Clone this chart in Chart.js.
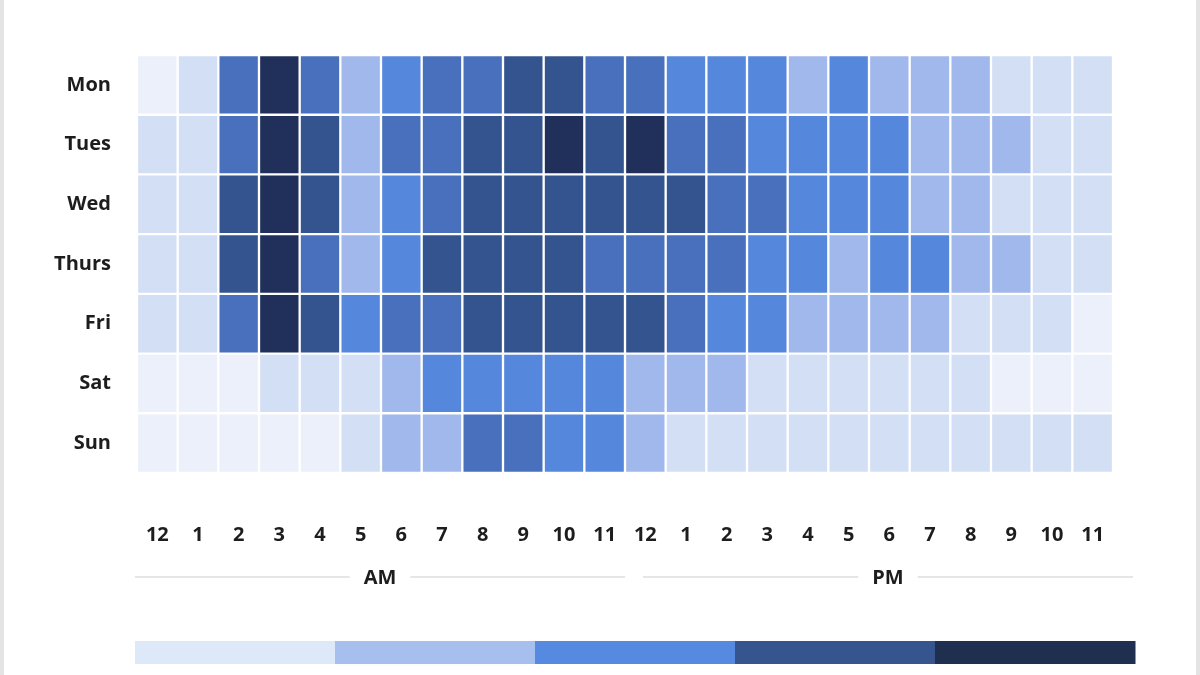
<!DOCTYPE html>
<html>
<head>
<meta charset="utf-8">
<script src="https://cdn.jsdelivr.net/npm/chart.js@4.4.0/dist/chart.umd.min.js"></script>
<style>
  html, body { margin: 0; padding: 0; background: #fff; }
</style>
</head>
<body>
<canvas id="activityHeatmap" width="1200" height="675"></canvas>
<script>
// {weekly activity heatmap - day x hour}

// y axis labels
const days = ['Mon', 'Tues', 'Wed', 'Thurs', 'Fri', 'Sat', 'Sun'];
// x axis labels (12 AM .. 11 PM)
const hours = ['12', '1', '2', '3', '4', '5', '6', '7', '8', '9', '10', '11',
               '12', '1', '2', '3', '4', '5', '6', '7', '8', '9', '10', '11'];
const periods = ['AM', 'PM'];

// activity level per hour, 0 = lowest .. 6 = highest
const mon   = [0, 1, 4, 6, 4, 2, 3, 4, 4, 5, 5, 4,  4, 3, 3, 3, 2, 3, 2, 2, 2, 1, 1, 1];
const tues  = [1, 1, 4, 6, 5, 2, 4, 4, 5, 5, 6, 5,  6, 4, 4, 3, 3, 3, 3, 2, 2, 2, 1, 1];
const wed   = [1, 1, 5, 6, 5, 2, 3, 4, 5, 5, 5, 5,  5, 5, 4, 4, 3, 3, 3, 2, 2, 1, 1, 1];
const thurs = [1, 1, 5, 6, 4, 2, 3, 5, 5, 5, 5, 4,  4, 4, 4, 3, 3, 2, 3, 3, 2, 2, 1, 1];
const fri   = [1, 1, 4, 6, 5, 3, 4, 4, 5, 5, 5, 5,  5, 4, 3, 3, 2, 2, 2, 2, 1, 1, 1, 0];
const sat   = [0, 0, 0, 1, 1, 1, 2, 3, 3, 3, 3, 3,  2, 2, 2, 1, 1, 1, 1, 1, 1, 0, 0, 0];
const sun   = [0, 0, 0, 0, 0, 1, 2, 2, 4, 4, 3, 3,  2, 1, 1, 1, 1, 1, 1, 1, 1, 1, 1, 1];
const levels = [mon, tues, wed, thurs, fri, sat, sun];

// cell colours by level
const levelColors = ['#ebf0fb', '#d3dff5', '#a0b8eb', '#5587dd', '#4870bc', '#34548f', '#20305a'];
// legend bar colours
const legendColors = ['#dde8f9', '#a6bfee', '#5689e0', '#36558f', '#1f2f4f'];

const labelFont = { family: "'Open Sans', sans-serif", size: 20, weight: 'bold' };

// background + side frame
const framePlugin = {
    id: 'frame',
    beforeDraw(chart) {
        const ctx = chart.ctx;
        ctx.save();
        ctx.fillStyle = '#ffffff';
        ctx.fillRect(0, 0, chart.width, chart.height);
        ctx.fillStyle = '#e4e4e4';
        ctx.fillRect(0, 0, 4, chart.height);
        ctx.fillRect(chart.width - 4, 0, 4, chart.height);
        ctx.restore();
    }
};

// AM / PM groups under the hour labels, then the colour legend
const extrasPlugin = {
    id: 'extras',
    afterDraw(chart) {
        const ctx = chart.ctx;
        const x = chart.scales.x;
        const cw = x.getPixelForValue(1) - x.getPixelForValue(0);
        const left = x.getPixelForValue(0) - cw / 2;
        const mid = x.getPixelForValue(11) + cw / 2;
        const right = x.getPixelForValue(23) + cw / 2;
        const groups = [
            { text: periods[0], from: left - 2, to: mid },
            { text: periods[1], from: mid + 18, to: right + 20 }
        ];
        const gy = 577;
        ctx.save();
        ctx.font = 'bold 20px "Open Sans", sans-serif';
        ctx.textAlign = 'center';
        ctx.textBaseline = 'middle';
        groups.forEach(g => {
            const cx = (g.from + g.to) / 2;
            const half = ctx.measureText(g.text).width / 2 + 14;
            ctx.strokeStyle = '#e6e6e6';
            ctx.lineWidth = 2;
            ctx.beginPath();
            ctx.moveTo(g.from, gy);
            ctx.lineTo(cx - half, gy);
            ctx.moveTo(cx + half, gy);
            ctx.lineTo(g.to, gy);
            ctx.stroke();
            ctx.fillStyle = '#1d1d1d';
            ctx.fillText(g.text, cx, gy + 1);
        });

        // legend bar
        const lx = 135, ly = 641, lw = 1000, lh = 23;
        const seg = lw / legendColors.length;
        legendColors.forEach((c, i) => {
            ctx.fillStyle = c;
            ctx.fillRect(lx + i * seg, ly, seg + 0.5, lh);
        });
        ctx.restore();
    }
};

const ChartH = document.getElementById('activityHeatmap');
const activityHeatmap = new Chart(ChartH, {
    type: 'bar',
    data: {
        labels: hours,
        // one floating-bar row per day
        datasets: days.map((d, i) => ({
            label: d,
            data: hours.map(() => [i - 0.5, i + 0.5]),
            backgroundColor: levels[i].map(v => levelColors[v]),
            borderColor: '#ffffff',
            borderWidth: 1.5,
            borderSkipped: false,
            barPercentage: 1,
            categoryPercentage: 1,
            grouped: false
        }))
    },
    options: {
        responsive: false,
        animation: false,
        layout: {
            padding: { top: 55, right: 87, bottom: 122, left: 0 }
        },
        scales: {
            x: {
                type: 'category',
                grid: { display: false, drawTicks: false },
                border: { display: false },
                ticks: {
                    autoSkip: false,
                    maxRotation: 0,
                    padding: 50,
                    color: '#1d1d1d',
                    font: labelFont
                },
                afterFit: s => { s.height = 80; }
            },
            y: {
                type: 'linear',
                min: -0.5,
                max: 6.5,
                reverse: true,
                grid: { display: false, drawTicks: false },
                border: { display: false },
                afterBuildTicks: s => { s.ticks = days.map((d, i) => ({ value: i })); },
                ticks: {
                    padding: 26,
                    color: '#1d1d1d',
                    font: labelFont,
                    callback: v => days[v]
                },
                afterFit: s => { s.width = 137; }
            }
        },
        plugins: {
            legend: { display: false },
            tooltip: { enabled: false }
        }
    },
    plugins: [framePlugin, extrasPlugin]
});
</script>
</body>
</html>
